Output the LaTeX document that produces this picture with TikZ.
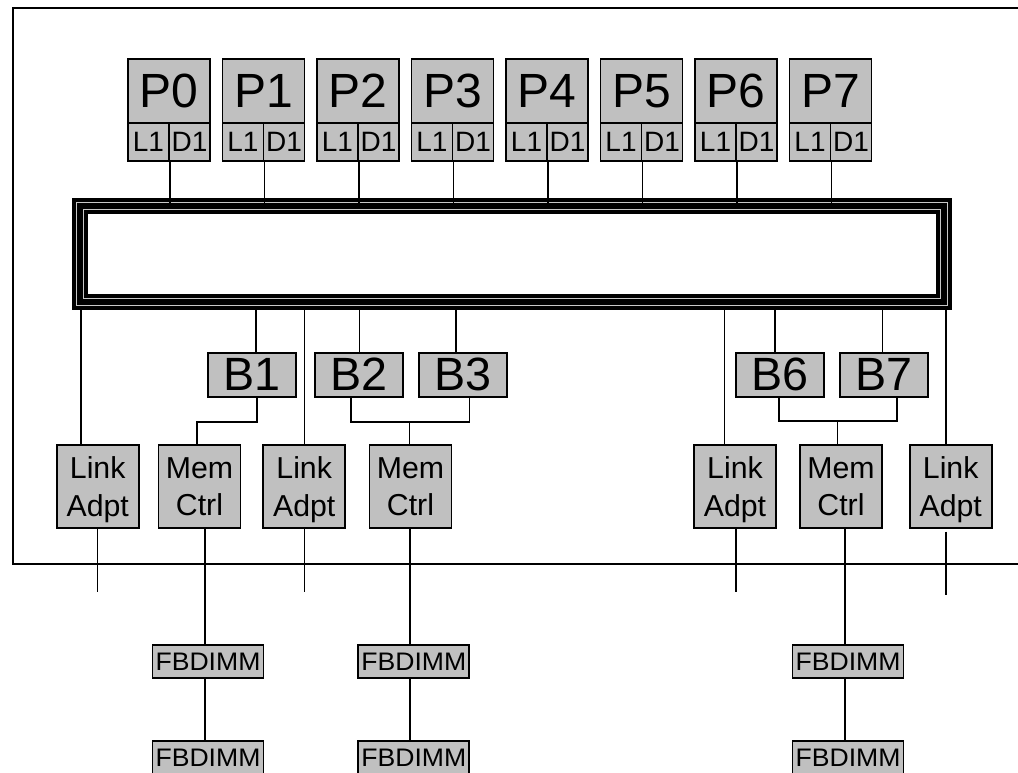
\documentclass[tikz,border=0pt]{standalone}
\usepackage{fontspec}
\setmainfont{Liberation Sans}
\definecolor{boxgray}{HTML}{C0C0C0}
\definecolor{busgray}{HTML}{C8C8C8}
\tikzset{
  unitbase/.style={draw=black, fill=boxgray, line width=1.25pt, inner sep=0pt},
  procbox/.style={unitbase, minimum width=61.5pt, minimum height=48pt, font=\fontsize{36}{40}\selectfont},
  cachebox/.style={unitbase, minimum width=30.75pt, minimum height=28.5pt, font=\fontsize{21}{23}\selectfont},
  bridgebox/.style={unitbase, minimum width=66pt, minimum height=33pt, font=\fontsize{35}{40}\selectfont},
  ctrlbox/.style={unitbase, minimum width=61.5pt, minimum height=62.25pt, align=center, font=\fontsize{22.7}{28.3}\selectfont},
  dimmbox/.style={unitbase, minimum width=83.25pt, minimum height=24.75pt, font=\fontsize{19}{21}\selectfont},
  wire/.style={line width=1.2pt},
  frameline/.style={line width=1.5pt},
}
\newcommand{\dimmtext}{\scalebox{1.05}[1]{FBDIMM}}
\newcommand{\nodepth}[1]{\raisebox{0pt}[\height][0pt]{#1}}
\begin{document}
\begin{tikzpicture}[x=0.75pt, y=-0.75pt]
\useasboundingbox (0,0) rectangle (1018,772);
\clip (0,0) rectangle (1018,772);
% outer frame
\draw[frameline] (1040,8) -- (13,8) -- (13,564) -- (1040,564);

% bus
\node[fill=black, draw=none, minimum width=660pt, minimum height=84pt, inner sep=0pt] (bus) at (512,254) {};
\draw[busgray, line width=0.8pt] ([shift={(4.5,4.5)}]bus.north west) rectangle ([shift={(-4.5,-4.5)}]bus.south east);
\draw[busgray, line width=0.8pt] ([shift={(12,12)}]bus.north west) rectangle ([shift={(-12,-12)}]bus.south east);
\fill[white] ([shift={(16.5,16.5)}]bus.north west) rectangle ([shift={(-16.5,-16.5)}]bus.south east);
\coordinate (bustop) at (0,203);

% processors
\foreach \i in {0,...,7} {
  \pgfmathsetmacro\cx{169+94.5*\i}
  \node[procbox] (P\i) at (\cx,91) {P\i};
  \node[cachebox] (L\i) at (\cx-20.5,142) {L1};
  \node[cachebox] (D\i) at (\cx+20.5,142) {D1};
  \draw[wire] (L\i.south east) -- (L\i.south east |- bustop);
}

% bridges
\node[bridgebox] (B1) at (252,374.7) {B1};
\node[bridgebox] (B2) at (359,374.7) {B2};
\node[bridgebox] (B3) at (463,374.7) {B3};
\node[bridgebox] (B6) at (780,374.7) {B6};
\node[bridgebox] (B7) at (884,374.7) {B7};

% controllers and adapters
\node[ctrlbox] (LA1) at (97.7,486.5) {Link\\\nodepth{Adpt}};
\node[ctrlbox] (MC1) at (199.5,486.5) {Mem\\\nodepth{Ctrl}};
\node[ctrlbox] (LA2) at (304.2,486.5) {Link\\\nodepth{Adpt}};
\node[ctrlbox] (MC2) at (410.5,486.5) {Mem\\\nodepth{Ctrl}};
\node[ctrlbox] (LA3) at (735,486.5) {Link\\\nodepth{Adpt}};
\node[ctrlbox] (MC3) at (841,486.5) {Mem\\\nodepth{Ctrl}};
\node[ctrlbox] (LA4) at (950.7,486.5) {Link\\\nodepth{Adpt}};

% FBDIMMs
\node[dimmbox] (F1a) at (208,661.5) {\dimmtext};
\node[dimmbox] (F1b) at (208,757.5) {\dimmtext};
\node[dimmbox] (F2a) at (413.8,661.5) {\dimmtext};
\node[dimmbox] (F2b) at (413.8,757.5) {\dimmtext};
\node[dimmbox] (F3a) at (848,661.5) {\dimmtext};
\node[dimmbox] (F3b) at (848,757.5) {\dimmtext};

% drops from bus
\coordinate (dLA1) at (80.7,306);
\coordinate (dB1) at (256,306);
\coordinate (dLA2) at (304.3,306);
\coordinate (dB2) at (359.3,306);
\coordinate (dB3) at (455.7,306);
\coordinate (dLA3) at (724.3,306);
\coordinate (dB6) at (775,306);
\coordinate (dB7) at (882.3,306);
\coordinate (dLA4) at (945.7,306);
\draw[wire] (dLA1) -- (dLA1 |- LA1.north);
\draw[wire] (dB1) -- (dB1 |- B1.north);
\draw[wire] (dLA2) -- (dLA2 |- LA2.north);
\draw[wire] (dB2) -- (dB2 |- B2.north);
\draw[wire] (dB3) -- (dB3 |- B3.north);
\draw[wire] (dLA3) -- (dLA3 |- LA3.north);
\draw[wire] (dB6) -- (dB6 |- B6.north);
\draw[wire] (dB7) -- (dB7 |- B7.north);
\draw[wire] (dLA4) -- (dLA4 |- LA4.north);

% bridges to memory controllers
\coordinate (j1a) at (256.7,421.7);
\coordinate (j1b) at (196.7,421.7);
\draw[wire] (j1a |- B1.south) -- (j1a) -- (j1b) -- (j1b |- MC1.north);
\coordinate (j2a) at (350.7,421.7);
\coordinate (j2b) at (469.3,421.7);
\coordinate (j2m) at (409.3,421.7);
\draw[wire] (j2a |- B2.south) -- (j2a) -- (j2b) -- (j2b |- B3.south);
\draw[wire] (j2m) -- (j2m |- MC2.north);
\coordinate (j3a) at (778.7,420.7);
\coordinate (j3b) at (896.7,420.7);
\coordinate (j3m) at (837.3,420.7);
\draw[wire] (j3a |- B6.south) -- (j3a) -- (j3b) -- (j3b |- B7.south);
\draw[wire] (j3m) -- (j3m |- MC3.north);

% links below
\coordinate (eLA1) at (97.3,591.7);
\coordinate (eLA2) at (304.3,591.7);
\coordinate (eLA3) at (736,591.7);
\coordinate (sLA4) at (945.7,531.7);
\coordinate (eLA4) at (945.7,595);
\draw[wire] (eLA1 |- LA1.south) -- (eLA1);
\draw[wire] (eLA2 |- LA2.south) -- (eLA2);
\draw[wire] (eLA3 |- LA3.south) -- (eLA3);
\draw[wire] (sLA4) -- (eLA4);

% memory channels
\coordinate (m1) at (205,0);
\coordinate (m2) at (410,0);
\coordinate (m3) at (845,0);
\draw[wire] (m1 |- MC1.south) -- (m1 |- F1a.north);
\draw[wire] (m1 |- F1a.south) -- (m1 |- F1b.north);
\draw[wire] (m2 |- MC2.south) -- (m2 |- F2a.north);
\draw[wire] (m2 |- F2a.south) -- (m2 |- F2b.north);
\draw[wire] (m3 |- MC3.south) -- (m3 |- F3a.north);
\draw[wire] (m3 |- F3a.south) -- (m3 |- F3b.north);
\end{tikzpicture}
\end{document}
